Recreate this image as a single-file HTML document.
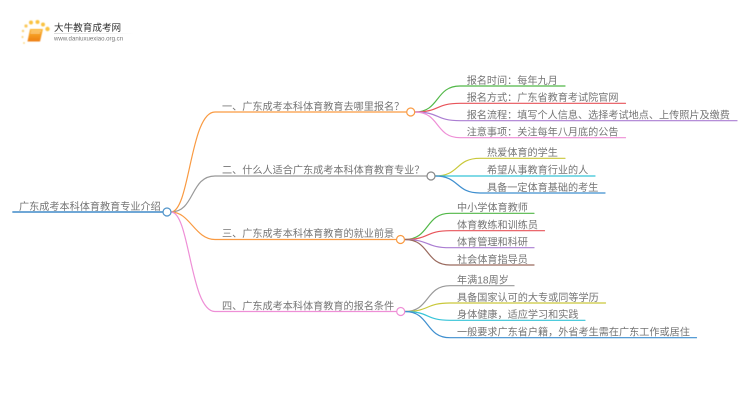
<!DOCTYPE html>
<html lang="zh">
<head>
<meta charset="utf-8">
<style>
html,body{margin:0;padding:0;background:#fff;width:750px;height:410px;overflow:hidden}
svg{display:block}
text{font-family:"Liberation Sans","Noto Sans CJK SC",sans-serif;font-size:10.15px;fill:#757575}
.c{fill:none;stroke-linecap:round}
</style>
</head>
<body>
<svg width="750" height="410" viewBox="0 0 750 410" xmlns="http://www.w3.org/2000/svg">
<defs>
<filter id="b" x="-5%" y="-20%" width="110%" height="140%"><feGaussianBlur stdDeviation="0.25"/></filter>
<filter id="b2" x="-20%" y="-20%" width="140%" height="140%"><feGaussianBlur stdDeviation="0.5"/></filter>
<linearGradient id="bk" x1="0" y1="0" x2="0" y2="1"><stop offset="0" stop-color="#fbb62e"/><stop offset="1" stop-color="#ee7f12"/></linearGradient>
<linearGradient id="hr" x1="0" y1="0" x2="1" y2="0"><stop offset="0" stop-color="#ccc"/><stop offset="1" stop-color="#fff"/></linearGradient>
</defs>

<!-- logo -->
<g filter="url(#b2)">
<circle cx="23" cy="31" r="1.2" fill="#fbd273"/>
<circle cx="22.5" cy="37" r="1" fill="#fbd273"/>
<circle cx="26" cy="26" r="1.6" fill="#fac85a"/>
<circle cx="31" cy="22.5" r="2" fill="#fac23f"/>
<circle cx="37.5" cy="22" r="2" fill="#fac23f"/>
<circle cx="43" cy="24.5" r="2" fill="#fac23f"/>
<circle cx="47.5" cy="29" r="2.2" fill="#fac23f"/>
<circle cx="24" cy="43" r="0.9" fill="#fbd273"/>
<path d="M30 29 H43 L40 41.5 H27.5 Z" fill="url(#bk)"/>
<path d="M31 31 H41 M30.5 33 H40" stroke="#ffe3a1" stroke-width=".8" fill="none"/>
</g>
<text x="54" y="31" style="font-size:9.6px;fill:#333" filter="url(#b)">大牛教育成考网</text>
<rect x="54" y="33" width="80" height="0.7" fill="url(#hr)"/>
<text x="54" y="40.5" style="font-size:6.1px;fill:#777" filter="url(#b)">www.daniuxuexiao.org.cn</text>

<!-- root -->
<path class="c" d="M13 212H163" stroke="#5b9bd0" stroke-width="1.8"/>

<!-- main branches -->
<path class="c" d="M171 212C190 212 190 112 215 112H406" stroke="#f99a42" stroke-width="1.2"/>
<path class="c" d="M171 212C195 212 190 176 215 176H427" stroke="#999" stroke-width="1.2"/>
<path class="c" d="M171 212C190 212 195 239.5 215 239.5H396" stroke="#f99a42" stroke-width="1.2"/>
<path class="c" d="M171 212C190 212 190 311.5 215 311.5H396" stroke="#ee8fd6" stroke-width="1.2"/>

<!-- branch 1 leaves -->
<path class="c" d="M415 112C440 112 435 86 460 86H565" stroke="#52b848" stroke-width="1.2"/>
<path class="c" d="M415 112C440 112 435 103.3 460 103.3H625.5" stroke="#e8545a" stroke-width="1.2"/>
<path class="c" d="M415 112C440 112 435 120.7 460 120.7H737" stroke="#ab7ed2" stroke-width="1.2"/>
<path class="c" d="M415 112C440 112 435 137.7 460 137.7H625.5" stroke="#ee8fd6" stroke-width="1.2"/>

<!-- branch 2 leaves -->
<path class="c" d="M435 176C460 176 455 158.3 480 158.3H565" stroke="#c9c83a" stroke-width="1.2"/>
<path class="c" d="M435 176H595" stroke="#36c4d8" stroke-width="1.2"/>
<path class="c" d="M435 176C460 176 455 193 480 193H605" stroke="#3f8fcf" stroke-width="1.2"/>

<!-- branch 3 leaves -->
<path class="c" d="M405 239.5C430 239.5 425 213.3 450 213.3H534" stroke="#52b848" stroke-width="1.2"/>
<path class="c" d="M405 239.5C430 239.5 425 230.7 450 230.7H544.5" stroke="#e8545a" stroke-width="1.2"/>
<path class="c" d="M405 239.5C430 239.5 425 247.7 450 247.7H534" stroke="#ab7ed2" stroke-width="1.2"/>
<path class="c" d="M405 239.5C430 239.5 425 265 450 265H534" stroke="#9a6a5e" stroke-width="1.2"/>

<!-- branch 4 leaves -->
<path class="c" d="M405 311.5C430 311.5 425 285.7 450 285.7H514" stroke="#999" stroke-width="1.2"/>
<path class="c" d="M405 311.5C430 311.5 425 303 450 303H605.5" stroke="#c9c83a" stroke-width="1.2"/>
<path class="c" d="M405 311.5C430 311.5 425 320.3 450 320.3H585" stroke="#36c4d8" stroke-width="1.2"/>
<path class="c" d="M405 311.5C430 311.5 425 337.7 450 337.7H696.5" stroke="#3f8fcf" stroke-width="1.2"/>

<!-- nodes -->
<circle cx="167" cy="212" r="4" fill="#fff" stroke="#4f93c9" stroke-width="1.2"/>
<circle cx="410.7" cy="112" r="4" fill="#fff" stroke="#f99a42" stroke-width="1.2"/>
<circle cx="431" cy="176" r="4" fill="#fff" stroke="#888" stroke-width="1.2"/>
<circle cx="400.5" cy="239.5" r="4" fill="#fff" stroke="#f99a42" stroke-width="1.2"/>
<circle cx="400.7" cy="311.5" r="4" fill="#fff" stroke="#ee8fd6" stroke-width="1.2"/>

<!-- labels -->
<g filter="url(#b)">
<text x="19" y="210">广东成考本科体育教育专业介绍</text>
<text x="222" y="110">一、广东成考本科体育教育去哪里报名&#xFF1F;</text>
<text x="222" y="173.5">二、什么人适合广东成考本科体育教育专业&#xFF1F;</text>
<text x="222" y="237">三、广东成考本科体育教育的就业前景</text>
<text x="222" y="309.5">四、广东成考本科体育教育的报名条件</text>

<text x="466.7" y="84">报名时间&#xFF1A;每年九月</text>
<text x="466.7" y="101.2">报名方式&#xFF1A;广东省教育考试院官网</text>
<text x="466.7" y="118.5">报名流程&#xFF1A;填写个人信息、选择考试地点、上传照片及缴费</text>
<text x="466.7" y="135.5">注意事项&#xFF1A;关注每年八月底的公告</text>

<text x="487" y="156.2">热爱体育的学生</text>
<text x="487" y="173.5">希望从事教育行业的人</text>
<text x="487" y="190.8">具备一定体育基础的考生</text>

<text x="457" y="211.2">中小学体育教师</text>
<text x="457" y="228.5">体育教练和训练员</text>
<text x="457" y="245.5">体育管理和科研</text>
<text x="457" y="262.8">社会体育指导员</text>

<text x="457" y="283.5">年满18周岁</text>
<text x="457" y="300.8">具备国家认可的大专或同等学历</text>
<text x="457" y="318.2">身体健康&#xFF0C;适应学习和实践</text>
<text x="457" y="335.5">一般要求广东省户籍&#xFF0C;外省考生需在广东工作或居住</text>
</g>
</svg>
</body>
</html>
